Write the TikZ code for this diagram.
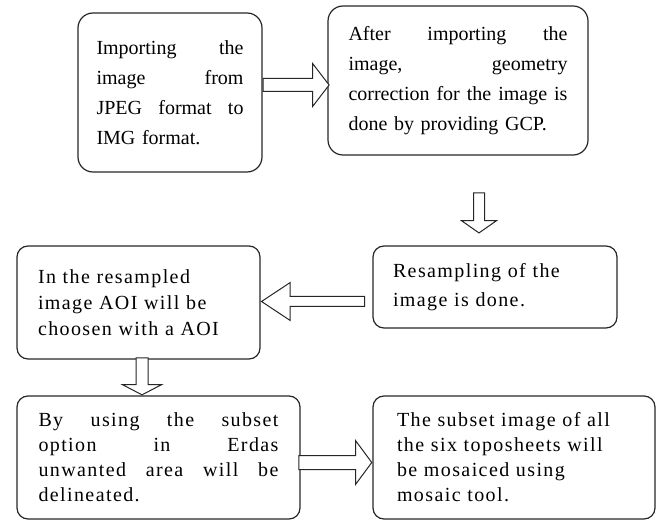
\documentclass[tikz,border=0pt]{standalone}
\usepackage{fontspec}
\setmainfont{Liberation Serif}
\newfontfamily\spacedserif[LetterSpace=7]{Liberation Serif}
\usepackage{tikz}
\usetikzlibrary{calc}
\usetikzlibrary{shapes.arrows}
\setlength{\parindent}{0pt}
\tikzset{stepbox/.style={draw=black!85,line width=1.2pt,rounded corners=15pt,inner sep=0pt,font=\fontsize{20}{30}\selectfont}}
\tikzset{lowbox/.style={draw=black!85,line width=1.2pt,rounded corners=11pt,inner sep=0pt,font=\spacedserif\fontsize{20}{25}\selectfont}}
\tikzset{blockarrow/.style={single arrow,draw=black!85,line width=1pt,fill=white,inner xsep=0pt,minimum width=0pt}}

\begin{document}
\begin{tikzpicture}[x=1pt,y=-1pt]
	\useasboundingbox (0,0) rectangle (659,521);
	% upper row
	\node[stepbox,minimum width=184pt,minimum height=159pt,text width=147pt] (imp) at (170,92.5) {Importing\hfill the\\image\hfill from\\JPEG\hfill format\hfill to\\IMG format.};
	\node[stepbox,minimum width=260pt,minimum height=149pt,text width=219pt] (geo) at (458,80.5) {After\hfill importing\hfill the\\image,\hfill geometry\\correction\hfill for\hfill the\hfill image\hfill is\\done by providing GCP.};
	% middle row
	\node[lowbox,align=left,font=\spacedserif\fontsize{20}{29}\selectfont,minimum width=244pt,minimum height=82pt,text width=204pt] (res) at (495,287) {Resampling of the\\image is done.};
	\node[lowbox,align=left,font=\spacedserif\fontsize{20}{26}\selectfont,minimum width=243pt,minimum height=113pt,text width=201pt] (aoi) at (138.5,302.5) {In the resampled\\image AOI will be\\choosen with a AOI};
	% lower row
	\node[lowbox,minimum width=283pt,minimum height=123pt,text width=240pt] (sub) at (158.5,457.5) {By\hfill using\hfill the\hfill subset\\option\hfill in\hfill Erdas\\unwanted\hfill area\hfill will\hfill be\\delineated.};
	\node[lowbox,align=left,minimum width=282pt,minimum height=123pt,text width=234pt] (mos) at (514,457.5) {The subset image of all\\the six toposheets will\\be mosaiced using\\mosaic tool.};
	% arrows
	\node[blockarrow,minimum height=66pt,inner ysep=6pt,single arrow head extend=15pt,single arrow tip angle=105,anchor=tail] (a1) at (imp.east |- 0,85) {};
	\node[blockarrow,rotate=270,minimum height=40pt,inner ysep=5pt,single arrow head extend=12pt,single arrow tip angle=110] (a2) at (479,211) {};
	\node[blockarrow,rotate=180,minimum height=103pt,inner ysep=4.5pt,single arrow head extend=14pt,single arrow tip angle=67,anchor=tip] (a3) at (aoi.east |- 0,301.5) {};
	\node[blockarrow,rotate=270,minimum height=37pt,inner ysep=5.5pt,single arrow head extend=13.5pt,single arrow tip angle=125,anchor=tip] (a4) at (sub.north -| 142,0) {};
	\node[blockarrow,minimum height=73pt,inner ysep=6.5pt,single arrow head extend=15pt,single arrow tip angle=107,anchor=tip] (a5) at (mos.west |- 0,462.5) {};
\end{tikzpicture}
\end{document}
